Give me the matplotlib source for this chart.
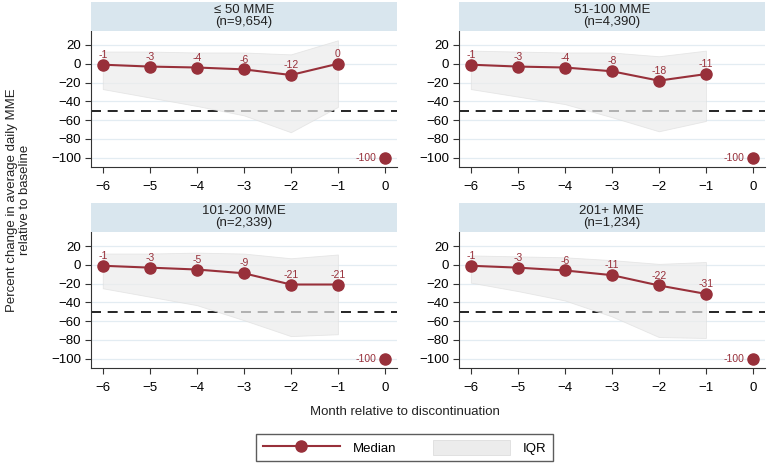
import matplotlib
matplotlib.use('Agg')
import matplotlib.pyplot as plt
from matplotlib.patches import Patch
from matplotlib.lines import Line2D

plt.rcParams['font.family'] = ['Liberation Sans', 'DejaVu Sans']

months = [-6, -5, -4, -3, -2, -1]
final_month = 0
final_value = -100

titles = ['\u2264 50 MME\n(n=9,654)', '51-100 MME\n(n=4,390)',
          '101-200 MME\n(n=2,339)', '201+ MME\n(n=1,234)']
medians = [[-1, -3, -4, -6, -12, 0],
           [-1, -3, -4, -8, -18, -11],
           [-1, -3, -5, -9, -21, -21],
           [-1, -3, -6, -11, -22, -31]]
iqr_upper = [[13, 13, 12, 12, 10, 25],
             [14, 13, 12, 12, 8, 14],
             [12, 12, 13, 12, 7, 11],
             [10, 9, 8, 5, 1, 3]]
iqr_lower = [[-27, -36, -45, -55, -73, -46],
             [-27, -35, -43, -57, -72, -61],
             [-25, -34, -43, -59, -76, -74],
             [-19, -28, -38, -55, -77, -78]]

red = '#98303a'
strip_color = '#d9e6ee'
grid_color = '#e3ecf2'

fig = plt.figure(figsize=(7.68, 4.65), dpi=100)

lefts = [0.1185, 0.5977]
bottoms = [0.641, 0.2086]
w, h = 0.398, 0.2925
strip_h = 0.0624

for i in range(4):
    r, c = divmod(i, 2)
    ax = fig.add_axes([lefts[c], bottoms[r], w, h])
    sax = fig.add_axes([lefts[c], bottoms[r] + h, w, strip_h])
    sax.set_facecolor(strip_color)
    sax.set_xticks([])
    sax.set_yticks([])
    for s in sax.spines.values():
        s.set_visible(False)
    sax.text(0.5, 0.5, titles[i], ha='center', va='center', fontsize=9.5,
             linespacing=1.0, color='#222222')

    ax.set_xlim(-6.25, 0.25)
    ax.set_ylim(-110, 35)
    ax.set_yticks([20, 0, -20, -40, -60, -80, -100])
    ax.set_xticks([-6, -5, -4, -3, -2, -1, 0])
    ax.grid(axis='y', color=grid_color, linewidth=0.9)
    ax.set_axisbelow(True)
    for s in ['top', 'right']:
        ax.spines[s].set_visible(False)
    for s in ['left', 'bottom']:
        ax.spines[s].set_color('#333333')
    ax.tick_params(labelsize=9.5, length=4, color='#333333', pad=3)
    ax.tick_params(axis='x', pad=6)

    ax.axhline(-50, color='black', linestyle=(0, (6, 4)), linewidth=1.2,
               zorder=1, clip_on=False)
    ax.fill_between(months, iqr_lower[i], iqr_upper[i], facecolor='#ececec',
                    edgecolor='#dedede', linewidth=0.6, alpha=0.7, zorder=2)
    ax.plot(months, medians[i], color=red, linewidth=1.5, marker='o',
            markersize=8, zorder=3)
    ax.plot([final_month], [final_value], color=red, marker='o',
            markersize=8, zorder=3, clip_on=False)
    for m, v in zip(months, medians[i]):
        ax.annotate(str(v), (m, v), xytext=(0, 3.5), textcoords='offset points',
                    ha='center', va='bottom', fontsize=7.5, color=red)
    ax.annotate(str(final_value), (final_month, final_value), xytext=(-6, 0),
                textcoords='offset points', ha='right', va='center',
                fontsize=7.5, color=red)

fig.text(0.024, 0.57, 'Percent change in average daily MME\nrelative to baseline',
         rotation=90, ha='center', va='center', fontsize=9.5, color='#222222')
fig.text(0.527, 0.114, 'Month relative to discontinuation', ha='center',
         va='center', fontsize=9.5, color='#222222')

handles = [Line2D([], [], color=red, linewidth=1.5, marker='o', markersize=8),
           Patch(facecolor='#ececec', edgecolor='#dedede', linewidth=0.6)]
leg = fig.legend(handles, ['Median', 'IQR'], loc='center',
                 bbox_to_anchor=(0.527, 0.0376), ncol=2, fontsize=9.5,
                 frameon=True, fancybox=False, handlelength=5.8,
                 handleheight=1.3, columnspacing=2.8, handletextpad=1.0,
                 borderpad=0.5)
leg.get_frame().set_edgecolor('#333333')
leg.get_frame().set_linewidth(1.0)

fig.savefig('out.png', dpi=100)
